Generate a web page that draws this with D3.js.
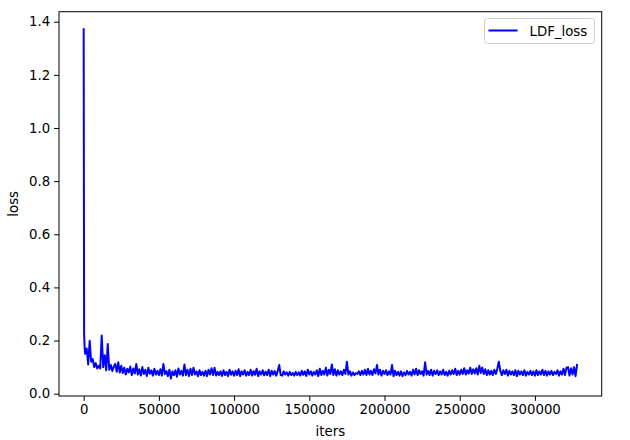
<!DOCTYPE html>
<html>
<head>
<meta charset="utf-8">
<script src="https://cdn.jsdelivr.net/npm/d3@7"></script>
<style>
  html, body { margin: 0; padding: 0; background: #fff; }
  svg text { font-family: "DejaVu Sans", sans-serif; }
</style>
</head>
<body>
<svg id="chart" width="630" height="440"></svg>
<script>
// ---- data ----
const seriesName = "LDF_loss";
const headIters = [0, 300, 700];
const headLoss = [1.372, 0.225, 0.165];
const step = 1000;           // regular logging step after the head
const lossValues = [
  0.150, 0.170, 0.110, 0.199, 0.120, 0.130, 0.100, 0.115, 0.095, 0.105,
  0.095, 0.219, 0.100, 0.145, 0.088, 0.187, 0.090, 0.108, 0.085, 0.102,
  0.112, 0.082, 0.118, 0.080, 0.105, 0.078, 0.098, 0.072, 0.094, 0.080,
  0.102, 0.070, 0.095, 0.076, 0.112, 0.072, 0.092, 0.068, 0.100, 0.074,
  0.090, 0.066, 0.098, 0.075, 0.088, 0.068, 0.094, 0.072, 0.086, 0.070,
  0.092, 0.068, 0.112, 0.074, 0.085, 0.066, 0.090, 0.057, 0.084, 0.070,
  0.088, 0.064, 0.095, 0.072, 0.086, 0.068, 0.110, 0.070, 0.090, 0.066,
  0.094, 0.070, 0.098, 0.072, 0.084, 0.066, 0.088, 0.070, 0.082, 0.068,
  0.086, 0.066, 0.090, 0.072, 0.096, 0.070, 0.098, 0.068, 0.082, 0.070,
  0.084, 0.067, 0.088, 0.070, 0.082, 0.066, 0.090, 0.071, 0.084, 0.068,
  0.086, 0.070, 0.092, 0.066, 0.084, 0.072, 0.088, 0.068, 0.082, 0.070,
  0.090, 0.068, 0.085, 0.071, 0.094, 0.066, 0.084, 0.072, 0.088, 0.069,
  0.083, 0.070, 0.090, 0.066, 0.086, 0.072, 0.085, 0.068, 0.085, 0.108,
  0.070, 0.068, 0.084, 0.072, 0.080, 0.068, 0.082, 0.070, 0.078, 0.068,
  0.082, 0.070, 0.080, 0.068, 0.086, 0.071, 0.084, 0.067, 0.090, 0.072,
  0.084, 0.068, 0.082, 0.072, 0.088, 0.066, 0.094, 0.070, 0.086, 0.072,
  0.098, 0.068, 0.090, 0.074, 0.110, 0.070, 0.092, 0.068, 0.088, 0.072,
  0.084, 0.070, 0.090, 0.074, 0.120, 0.072, 0.084, 0.068, 0.080, 0.070,
  0.078, 0.074, 0.084, 0.070, 0.086, 0.072, 0.090, 0.070, 0.094, 0.072,
  0.086, 0.070, 0.092, 0.076, 0.108, 0.072, 0.090, 0.068, 0.086, 0.074,
  0.088, 0.070, 0.084, 0.072, 0.108, 0.066, 0.086, 0.070, 0.082, 0.068,
  0.084, 0.066, 0.080, 0.070, 0.086, 0.072, 0.082, 0.068, 0.090, 0.072,
  0.094, 0.070, 0.088, 0.074, 0.084, 0.068, 0.118, 0.072, 0.086, 0.070,
  0.090, 0.068, 0.086, 0.074, 0.088, 0.070, 0.084, 0.072, 0.090, 0.070,
  0.082, 0.068, 0.086, 0.072, 0.088, 0.074, 0.094, 0.070, 0.086, 0.072,
  0.090, 0.074, 0.096, 0.072, 0.088, 0.076, 0.098, 0.074, 0.092, 0.076,
  0.096, 0.072, 0.105, 0.078, 0.098, 0.074, 0.092, 0.070, 0.088, 0.072,
  0.086, 0.070, 0.090, 0.074, 0.094, 0.120, 0.086, 0.070, 0.088, 0.074,
  0.090, 0.068, 0.086, 0.072, 0.084, 0.070, 0.088, 0.066, 0.086, 0.072,
  0.084, 0.070, 0.088, 0.068, 0.082, 0.072, 0.086, 0.070, 0.084, 0.068,
  0.088, 0.070, 0.084, 0.072, 0.090, 0.070, 0.086, 0.068, 0.084, 0.072,
  0.086, 0.070, 0.082, 0.074, 0.088, 0.068, 0.084, 0.072, 0.094, 0.070,
  0.098, 0.100, 0.068, 0.096, 0.072, 0.100, 0.066, 0.108
];
const xTicks = [0, 50000, 100000, 150000, 200000, 250000, 300000];
const yTicks = [0.0, 0.2, 0.4, 0.6, 0.8, 1.0, 1.2, 1.4];
const xLabel = "iters";
const yLabel = "loss";

(function () {
// ---- build points ----
const points = headIters.map((it, i) => ({ x: it, y: headLoss[i] }))
  .concat(lossValues.map((v, i) => ({ x: (i + 1) * step, y: v })));

// ---- layout ----
const pl = 59, pr = 601.7, pt = 11.7, pb = 396;
const svg = d3.select("#chart");

const xExt = d3.extent(points, d => d.x);
const yExt = d3.extent(points, d => d.y);
const xPad = (xExt[1] - xExt[0]) * 0.05;
const yPad = (yExt[1] - yExt[0]) * 0.05;
const x = d3.scaleLinear().domain([xExt[0] - xPad, xExt[1] + xPad]).range([pl, pr]);
const y = d3.scaleLinear().domain([yExt[0] - yPad, yExt[1] + yPad]).range([pb, pt]);

// data line
const line = d3.line().x(d => x(d.x)).y(d => y(d.y));
svg.append("path")
  .datum(points)
  .attr("fill", "none")
  .attr("stroke", "#0000ff")
  .attr("stroke-width", 2)
  .attr("stroke-linejoin", "round")
  .attr("stroke-linecap", "square")
  .attr("d", line);

// axes
const xAxis = d3.axisBottom(x).tickValues(xTicks).tickFormat(d3.format("d"))
  .tickSizeInner(4.9).tickSizeOuter(0).tickPadding(4);
const yAxis = d3.axisLeft(y).tickValues(yTicks).tickFormat(d3.format(".1f"))
  .tickSizeInner(4.9).tickSizeOuter(0).tickPadding(4);

const gx = svg.append("g").attr("transform", `translate(0,${pb})`).call(xAxis);
const gy = svg.append("g").attr("transform", `translate(${pl},0)`).call(yAxis);
[gx, gy].forEach(g => {
  g.select(".domain").remove();
  g.selectAll(".tick line").attr("stroke", "#000").attr("stroke-width", 1);
  g.selectAll(".tick text").attr("fill", "#000").attr("font-size", "13.3px")
    .attr("font-family", "DejaVu Sans");
});

// spines
svg.append("rect")
  .attr("x", pl).attr("y", pt)
  .attr("width", pr - pl).attr("height", pb - pt)
  .attr("fill", "none").attr("stroke", "#000").attr("stroke-width", 1);

// axis labels
svg.append("text")
  .attr("x", (pl + pr) / 2).attr("y", 436)
  .attr("text-anchor", "middle").attr("font-size", "13.3px").attr("fill", "#000")
  .text(xLabel);
svg.append("text")
  .attr("transform", `translate(17.5,${(pt + pb) / 2}) rotate(-90)`)
  .attr("text-anchor", "middle").attr("font-size", "13.3px").attr("fill", "#000")
  .text(yLabel);

// legend
const lg = svg.append("g");
lg.append("rect")
  .attr("x", 484.5).attr("y", 18.5).attr("width", 110).attr("height", 25)
  .attr("rx", 3).attr("ry", 3)
  .attr("fill", "#fff").attr("fill-opacity", 0.8)
  .attr("stroke", "#cccccc").attr("stroke-width", 1);
lg.append("line")
  .attr("x1", 488.5).attr("x2", 517.5).attr("y1", 30.5).attr("y2", 30.5)
  .attr("stroke", "#0000ff").attr("stroke-width", 2);
lg.append("text")
  .attr("x", 529.5).attr("y", 35.5)
  .attr("font-size", "13.3px").attr("fill", "#000")
  .text(seriesName);
})();
</script>
</body>
</html>
